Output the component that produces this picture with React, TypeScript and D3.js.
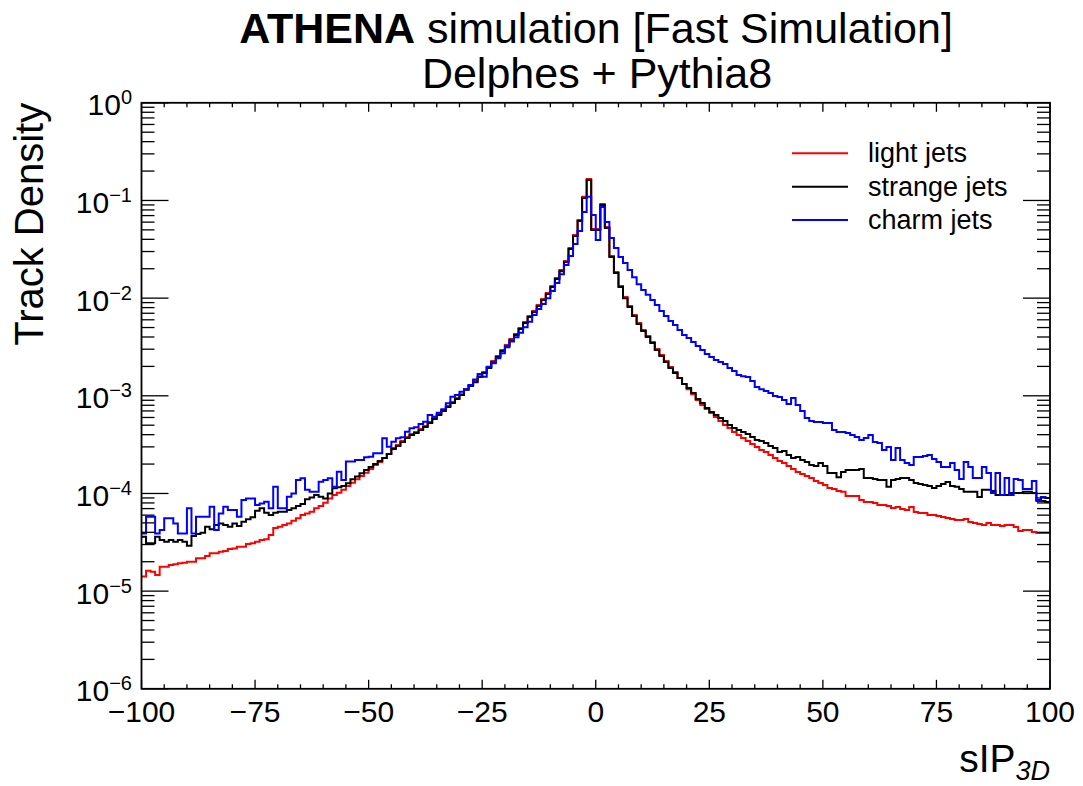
import React from 'react';
import * as d3 from 'd3';

// ---- data (bins of width 1 from -100 to 100) ----
const binStart = -100;
const binWidth = 1;

const lightJets = [
  1.41e-5, 1.62e-5, 1.58e-5, 1.46e-5, 1.78e-5, 1.78e-5, 1.85e-5, 1.88e-5, 1.93e-5, 1.95e-5,
  2.00e-5, 2.00e-5, 2.17e-5, 2.17e-5, 2.29e-5, 2.44e-5, 2.44e-5, 2.53e-5, 2.57e-5, 2.70e-5,
  2.74e-5, 2.85e-5, 2.85e-5, 3.03e-5, 3.09e-5, 3.20e-5, 3.33e-5, 3.39e-5, 3.75e-5, 4.42e-5,
  4.56e-5, 4.75e-5, 4.94e-5, 5.26e-5, 5.56e-5, 6.01e-5, 6.25e-5, 6.49e-5, 7.04e-5, 7.42e-5,
  8.04e-5, 8.90e-5, 9.62e-5, 1.02e-4, 1.09e-4, 1.19e-4, 1.29e-4, 1.40e-4, 1.51e-4, 1.63e-4,
  1.78e-4, 1.96e-4, 2.10e-4, 2.31e-4, 2.54e-4, 2.92e-4, 3.14e-4, 3.45e-4, 3.79e-4, 4.06e-4,
  4.26e-4, 4.57e-4, 4.91e-4, 5.39e-4, 5.92e-4, 6.51e-4, 7.16e-4, 7.86e-4, 8.64e-4, 9.49e-4,
  1.04e-3, 1.17e-3, 1.29e-3, 1.42e-3, 1.59e-3, 1.75e-3, 1.97e-3, 2.27e-3, 2.56e-3, 2.94e-3,
  3.31e-3, 3.81e-3, 4.29e-3, 4.95e-3, 5.70e-3, 6.56e-3, 7.38e-3, 8.50e-3, 9.79e-3, 1.13e-2,
  1.33e-2, 1.61e-2, 1.94e-2, 2.40e-2, 3.26e-2, 4.43e-2, 6.30e-2, 0.109, 0.166, 5.09e-2,
  5.09e-2, 9.18e-2, 5.34e-2, 2.70e-2, 1.85e-2, 1.33e-2, 1.03e-2, 8.30e-3, 6.71e-3, 5.56e-3,
  4.71e-3, 4.09e-3, 3.55e-3, 3.01e-3, 2.62e-3, 2.27e-3, 1.97e-3, 1.75e-3, 1.52e-3, 1.32e-3,
  1.17e-3, 1.04e-3, 9.07e-4, 8.05e-4, 7.33e-4, 6.66e-4, 6.07e-4, 5.52e-4, 5.02e-4, 4.68e-4,
  4.26e-4, 3.97e-4, 3.70e-4, 3.45e-4, 3.21e-4, 2.99e-4, 2.79e-4, 2.66e-4, 2.48e-4, 2.31e-4,
  2.15e-4, 2.05e-4, 1.91e-4, 1.78e-4, 1.66e-4, 1.58e-4, 1.51e-4, 1.44e-4, 1.34e-4, 1.28e-4,
  1.22e-4, 1.14e-4, 1.11e-4, 1.06e-4, 1.04e-4, 9.40e-5, 9.40e-5, 9.40e-5, 8.55e-5, 8.16e-5,
  8.16e-5, 7.97e-5, 7.60e-5, 7.60e-5, 7.42e-5, 7.09e-5, 7.25e-5, 6.92e-5, 6.76e-5, 7.25e-5,
  6.45e-5, 6.30e-5, 6.30e-5, 6.01e-5, 6.01e-5, 5.87e-5, 5.73e-5, 5.60e-5, 5.47e-5, 5.34e-5,
  5.34e-5, 5.47e-5, 5.10e-5, 4.98e-5, 4.86e-5, 4.75e-5, 4.98e-5, 4.75e-5, 4.75e-5, 4.64e-5,
  4.75e-5, 4.75e-5, 4.53e-5, 4.12e-5, 4.22e-5, 4.22e-5, 4.03e-5, 3.93e-5, 3.93e-5, 3.93e-5,
];

const strangeJets = [
  3.61e-5, 3.09e-5, 3.09e-5, 3.61e-5, 3.33e-5, 3.20e-5, 3.33e-5, 3.20e-5, 3.33e-5, 3.20e-5,
  2.91e-5, 3.67e-5, 3.84e-5, 3.96e-5, 4.56e-5, 4.29e-5, 4.75e-5, 4.94e-5, 4.75e-5, 4.56e-5,
  4.94e-5, 4.64e-5, 5.14e-5, 5.43e-5, 5.70e-5, 6.64e-5, 7.04e-5, 6.35e-5, 6.01e-5, 6.35e-5,
  6.49e-5, 6.49e-5, 6.76e-5, 7.04e-5, 7.42e-5, 7.78e-5, 8.70e-5, 9.11e-5, 9.62e-5, 9.24e-5,
  8.90e-5, 1.00e-4, 1.13e-4, 1.16e-4, 1.19e-4, 1.27e-4, 1.40e-4, 1.49e-4, 1.61e-4, 1.74e-4,
  1.87e-4, 2.00e-4, 2.15e-4, 2.31e-4, 2.54e-4, 2.85e-4, 3.06e-4, 3.37e-4, 3.70e-4, 3.97e-4,
  4.16e-4, 4.47e-4, 4.80e-4, 5.27e-4, 5.79e-4, 6.36e-4, 6.99e-4, 7.68e-4, 8.44e-4, 9.27e-4,
  1.02e-3, 1.15e-3, 1.26e-3, 1.38e-3, 1.56e-3, 1.71e-3, 1.93e-3, 2.22e-3, 2.50e-3, 2.87e-3,
  3.23e-3, 3.72e-3, 4.19e-3, 4.84e-3, 5.56e-3, 6.41e-3, 7.21e-3, 8.30e-3, 9.56e-3, 1.10e-2,
  1.30e-2, 1.57e-2, 1.89e-2, 2.34e-2, 3.18e-2, 4.32e-2, 6.15e-2, 0.106, 0.162, 4.98e-2,
  4.98e-2, 8.97e-2, 5.21e-2, 2.63e-2, 1.81e-2, 1.30e-2, 1.00e-2, 8.11e-3, 6.56e-3, 5.43e-3,
  4.61e-3, 3.99e-3, 3.47e-3, 2.94e-3, 2.56e-3, 2.22e-3, 1.93e-3, 1.71e-3, 1.52e-3, 1.32e-3,
  1.20e-3, 1.07e-3, 9.27e-4, 8.44e-4, 7.50e-4, 6.83e-4, 6.36e-4, 5.92e-4, 5.52e-4, 5.02e-4,
  4.68e-4, 4.47e-4, 4.26e-4, 4.06e-4, 3.79e-4, 3.53e-4, 3.45e-4, 3.29e-4, 3.06e-4, 2.92e-4,
  2.66e-4, 2.72e-4, 2.48e-4, 2.31e-4, 2.36e-4, 2.20e-4, 2.10e-4, 1.96e-4, 1.91e-4, 2.05e-4,
  1.91e-4, 1.62e-4, 1.62e-4, 1.47e-4, 1.66e-4, 1.74e-4, 1.74e-4, 1.74e-4, 1.78e-4, 1.44e-4,
  1.44e-4, 1.41e-4, 1.37e-4, 1.37e-4, 1.17e-4, 1.37e-4, 1.41e-4, 1.44e-4, 1.44e-4, 1.37e-4,
  1.28e-4, 1.25e-4, 1.22e-4, 1.19e-4, 1.14e-4, 1.19e-4, 1.25e-4, 1.31e-4, 1.19e-4, 1.17e-4,
  1.11e-4, 1.04e-4, 1.04e-4, 1.04e-4, 9.18e-5, 1.09e-4, 1.09e-4, 1.06e-4, 9.62e-5, 9.62e-5,
  9.62e-5, 1.01e-4, 1.01e-4, 1.01e-4, 1.04e-4, 1.04e-4, 1.01e-4, 8.55e-5, 8.36e-5, 8.16e-5,
];

const charmJets = [
  3.90e-5, 5.78e-5, 5.78e-5, 3.90e-5, 4.22e-5, 5.56e-5, 5.56e-5, 4.94e-5, 3.90e-5, 3.90e-5,
  7.04e-5, 3.90e-5, 5.78e-5, 5.78e-5, 5.78e-5, 7.29e-5, 4.22e-5, 6.25e-5, 7.29e-5, 6.76e-5,
  6.76e-5, 5.78e-5, 8.55e-5, 8.90e-5, 8.90e-5, 7.60e-5, 7.90e-5, 8.22e-5, 7.04e-5, 1.17e-4,
  7.04e-5, 7.04e-5, 9.24e-5, 1.00e-4, 1.37e-4, 1.43e-4, 1.09e-4, 1.04e-4, 1.04e-4, 1.32e-4,
  1.37e-4, 1.43e-4, 1.17e-4, 1.67e-4, 1.37e-4, 2.12e-4, 2.12e-4, 2.20e-4, 2.20e-4, 2.35e-4,
  2.38e-4, 2.58e-4, 2.58e-4, 3.68e-4, 3.01e-4, 3.39e-4, 3.68e-4, 3.76e-4, 4.29e-4, 4.65e-4,
  4.76e-4, 5.14e-4, 5.43e-4, 6.36e-4, 6.11e-4, 6.71e-4, 7.28e-4, 8.38e-4, 9.79e-4, 1.02e-3,
  1.10e-3, 1.17e-3, 1.29e-3, 1.47e-3, 1.67e-3, 1.57e-3, 1.98e-3, 2.15e-3, 2.42e-3, 2.72e-3,
  3.14e-3, 3.59e-3, 3.97e-3, 4.42e-3, 5.02e-3, 5.73e-3, 6.71e-3, 7.74e-3, 8.70e-3, 1.00e-2,
  1.18e-2, 1.43e-2, 1.76e-2, 2.18e-2, 2.70e-2, 3.59e-2, 4.86e-2, 7.60e-2, 0.109, 7.09e-2,
  3.93e-2, 8.55e-2, 6.01e-2, 4.12e-2, 3.26e-2, 2.63e-2, 2.29e-2, 1.94e-2, 1.64e-2, 1.39e-2,
  1.21e-2, 1.08e-2, 9.56e-3, 8.50e-3, 7.38e-3, 6.56e-3, 5.83e-3, 5.31e-3, 4.71e-3, 4.19e-3,
  3.90e-3, 3.55e-3, 3.23e-3, 2.94e-3, 2.68e-3, 2.50e-3, 2.33e-3, 2.22e-3, 2.12e-3, 1.93e-3,
  1.79e-3, 1.63e-3, 1.59e-3, 1.56e-3, 1.42e-3, 1.23e-3, 1.17e-3, 1.12e-3, 1.07e-3, 9.95e-4,
  9.72e-4, 9.07e-4, 8.24e-4, 9.49e-4, 8.05e-4, 6.99e-4, 5.92e-4, 5.52e-4, 5.39e-4, 5.39e-4,
  5.27e-4, 5.27e-4, 4.47e-4, 4.26e-4, 4.26e-4, 4.16e-4, 3.97e-4, 3.79e-4, 3.53e-4, 3.70e-4,
  3.97e-4, 3.37e-4, 3.29e-4, 2.79e-4, 2.99e-4, 2.20e-4, 2.92e-4, 2.20e-4, 2.05e-4, 1.96e-4,
  2.36e-4, 2.36e-4, 2.42e-4, 2.48e-4, 2.25e-4, 2.10e-4, 1.87e-4, 1.87e-4, 2.05e-4, 1.74e-4,
  1.41e-4, 2.10e-4, 1.87e-4, 1.44e-4, 1.44e-4, 1.87e-4, 1.62e-4, 1.01e-4, 1.62e-4, 9.62e-5,
  1.44e-4, 9.62e-5, 1.41e-4, 1.37e-4, 1.11e-4, 1.11e-4, 1.34e-4, 8.36e-5, 9.18e-5, 8.97e-5,
];

const seriesNames = ['light jets', 'strange jets', 'charm jets'];
const seriesColors = ['#ff0000', '#000000', '#0000ff'];
const seriesValues = [lightJets, strangeJets, charmJets];

const xMajorTicks = [-100, -75, -50, -25, 0, 25, 50, 75, 100];
const xTickLabels = ['\u2212100', '\u221275', '\u221250', '\u221225', '0', '25', '50', '75', '100'];
const yDecades = [0, -1, -2, -3, -4, -5, -6];
const yDecadeLabels = ['0', '\u22121', '\u22122', '\u22123', '\u22124', '\u22125', '\u22126'];

// ---- layout ----
const W = 1083;
const H = 786;
const PL = 141.5;
const PR = 1050;
const PT = 102.8;
const PB = 688.8;
const FONT = '"Liberation Sans", Arial, Helvetica, sans-serif';

export default function App() {
  const x = d3.scaleLinear().domain([-100, 100]).range([PL, PR]);
  const y = d3.scaleLog().domain([1e-6, 1]).range([PB, PT]);

  const line = d3
    .line<[number, number]>()
    .x((d) => x(d[0]))
    .y((d) => y(d[1]))
    .curve(d3.curveStepAfter);

  const histPath = (vals: number[]) => {
    const pts: [number, number][] = vals.map((v, i) => [binStart + i * binWidth, v]);
    pts.push([binStart + vals.length * binWidth, vals[vals.length - 1]]);
    return line(pts) || '';
  };

  const xMinor = d3.range(-100, 100.001, 5).filter((v) => !xMajorTicks.includes(v));
  const yMinor: number[] = [];
  for (let e = -6; e < 0; e++) {
    for (let k = 2; k <= 9; k++) yMinor.push(k * Math.pow(10, e));
  }

  const xMajLen = 9;
  const xMinLen = 4.5;
  const yMajLen = 27;
  const yMinLen = 13;

  const legendY = [153.3, 186.7, 220];

  return (
    <svg
      width={W}
      height={H}
      viewBox={`0 0 ${W} ${H}`}
      style={{ position: 'absolute', left: 0, top: 0, display: 'block', background: '#fff' }}
      fontFamily={FONT}
    >
      <rect x={0} y={0} width={W} height={H} fill="#fff" />
      <defs>
        <clipPath id="plotClip">
          <rect x={PL} y={PT} width={PR - PL} height={PB - PT} />
        </clipPath>
      </defs>

      {/* Title */}
      <text x={596} y={43} textAnchor="middle" fontSize={43} fill="#000">
        <tspan fontWeight="bold">ATHENA</tspan>
        <tspan> simulation [Fast Simulation]</tspan>
      </text>
      <text x={597} y={88} textAnchor="middle" fontSize={43} fill="#000">
        Delphes + Pythia8
      </text>

      {/* Histograms */}
      <g clipPath="url(#plotClip)">
        {seriesValues.map((vals, i) => (
          <path
            key={seriesNames[i]}
            d={histPath(vals)}
            fill="none"
            stroke={seriesColors[i]}
            strokeWidth={2}
            strokeLinejoin="miter"
          />
        ))}
      </g>

      {/* Ticks */}
      <g stroke="#000" strokeWidth={1.3}>
        {xMajorTicks.map((v) => (
          <g key={`xM${v}`}>
            <line x1={x(v)} x2={x(v)} y1={PB} y2={PB - xMajLen} />
            <line x1={x(v)} x2={x(v)} y1={PT} y2={PT + xMajLen} />
          </g>
        ))}
        {xMinor.map((v) => (
          <g key={`xm${v}`}>
            <line x1={x(v)} x2={x(v)} y1={PB} y2={PB - xMinLen} />
            <line x1={x(v)} x2={x(v)} y1={PT} y2={PT + xMinLen} />
          </g>
        ))}
        {yDecades.map((e) => (
          <g key={`yM${e}`}>
            <line x1={PL} x2={PL + yMajLen} y1={y(Math.pow(10, e))} y2={y(Math.pow(10, e))} />
            <line x1={PR} x2={PR - yMajLen} y1={y(Math.pow(10, e))} y2={y(Math.pow(10, e))} />
          </g>
        ))}
        {yMinor.map((v, i) => (
          <g key={`ym${i}`}>
            <line x1={PL} x2={PL + yMinLen} y1={y(v)} y2={y(v)} />
            <line x1={PR} x2={PR - yMinLen} y1={y(v)} y2={y(v)} />
          </g>
        ))}
      </g>

      {/* Frame */}
      <rect x={PL} y={PT} width={PR - PL} height={PB - PT} fill="none" stroke="#000" strokeWidth={1.8} />

      {/* X tick labels */}
      {xMajorTicks.map((v, i) => (
        <text key={`xl${v}`} x={x(v)} y={722} textAnchor="middle" fontSize={30} fill="#000">
          {xTickLabels[i]}
        </text>
      ))}

      {/* Y tick labels */}
      {yDecades.map((e, i) => (
        <text key={`yl${e}`} x={132} y={y(Math.pow(10, e)) + 12.5} textAnchor="end" fontSize={30} fill="#000">
          <tspan>10</tspan>
          <tspan fontSize={20} dy={-11}>
            {yDecadeLabels[i]}
          </tspan>
        </text>
      ))}

      {/* Axis titles */}
      <text
        transform={`translate(43, ${PT}) rotate(-90)`}
        textAnchor="end"
        fontSize={40}
        fill="#000"
      >
        Track Density
      </text>
      <text x={PR} y={772} textAnchor="end" fontSize={39} fill="#000">
        <tspan>sIP</tspan>
        <tspan fontSize={27} fontStyle="italic" dy={8}>
          3D
        </tspan>
      </text>

      {/* Legend */}
      {seriesNames.map((n, i) => (
        <g key={`lg${n}`}>
          <line x1={792} x2={848} y1={legendY[i]} y2={legendY[i]} stroke={seriesColors[i]} strokeWidth={2} />
          <text x={868} y={legendY[i] + 9} fontSize={27} fill="#000">
            {n}
          </text>
        </g>
      ))}
    </svg>
  );
}
